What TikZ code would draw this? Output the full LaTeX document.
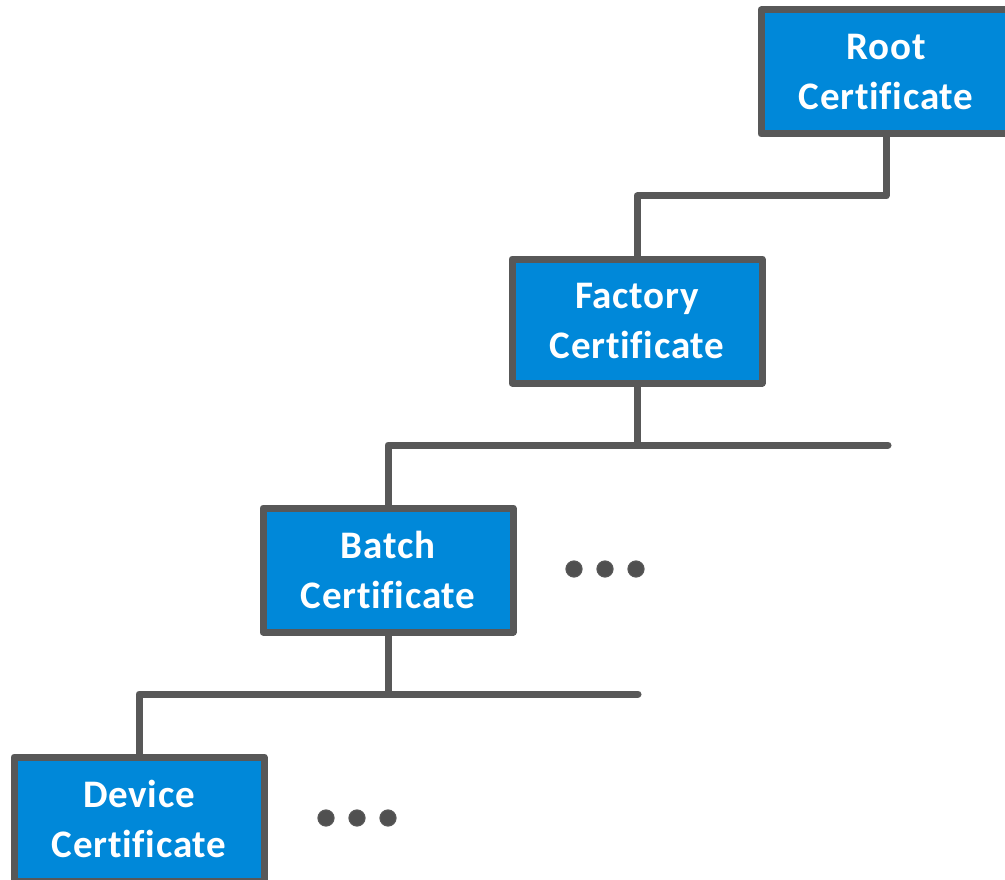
\documentclass[tikz,border=0pt]{standalone}
\usepackage{fontspec}
\setmainfont{Carlito}[Ligatures=NoCommon, LetterSpace=2]
\begin{document}
\begin{tikzpicture}[x=1pt,y=-1pt,
  certbox/.style={draw=linegray, fill=certblue, line width=7pt, line join=round,
    minimum width=250pt, minimum height=124pt, inner sep=0pt, text=white,
    font=\fontsize{39}{49.5}\selectfont\bfseries, align=center},
  conn/.style={draw=linegray, line width=7pt, line cap=round, line join=round},
  dot/.style={circle, fill=dotgray, draw=linegray, line width=1.2pt, minimum size=16pt, inner sep=0pt}]
\definecolor{certblue}{RGB}{0,136,217}
\definecolor{linegray}{RGB}{88,88,88}
\definecolor{dotgray}{RGB}{80,80,80}
\useasboundingbox (0,0) rectangle (1005,880);
\begin{scope}
\clip (0,0) rectangle (1005,880);
% certificate chain
\node[certbox] (root)    at (886,72)  {Root\\Certificate};
\node[certbox] (factory) at (637,321) {Factory\\Certificate};
\node[certbox] (batch)   at (388,570) {Batch\\Certificate};
\node[certbox] (device)  at (139,819) {Device\\Certificate};
% junction levels
\coordinate (bus0) at (0,196);
\coordinate (bus1) at (0,445);
\coordinate (bus2) at (0,694);
\coordinate (bus1end) at (888,445);
\coordinate (bus2end) at (638,694);
% connectors
\draw[conn] (root.south) -- (root.south |- bus0) -| (factory.north);
\draw[conn] (factory.south) -- (factory.south |- bus1);
\draw[conn] (batch.north) |- (bus1end);
\draw[conn] (batch.south) -- (batch.south |- bus2);
\draw[conn] (device.north) |- (bus2end);
% siblings omitted
\node[dot] (d1a) at (574,569) {};
\node[dot] (d1b) at (605,569) {};
\node[dot] (d1c) at (636,569) {};
\node[dot] (d2a) at (326,818) {};
\node[dot] (d2b) at (357,818) {};
\node[dot] (d2c) at (388,818) {};
\end{scope}
\end{tikzpicture}
\end{document}
